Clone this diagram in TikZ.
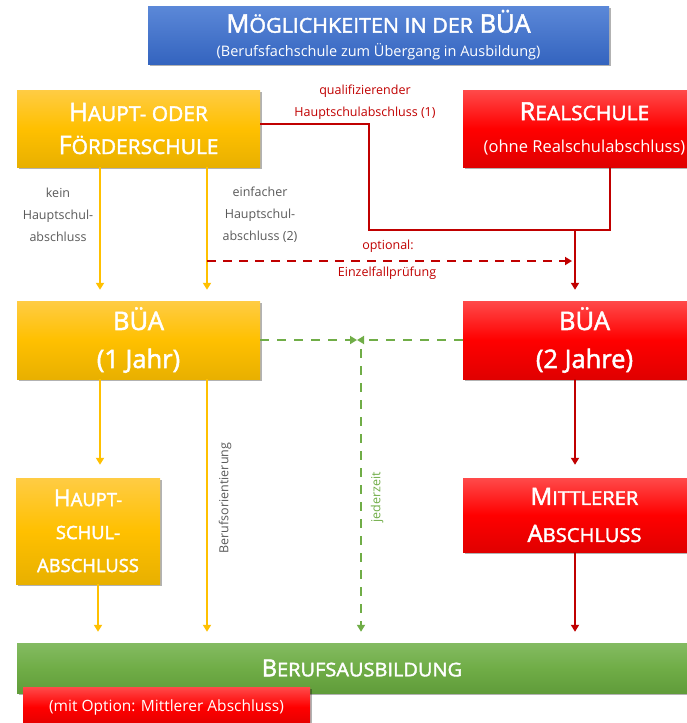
\documentclass[tikz,border=0pt]{standalone}
\usepackage{fontspec}
\setmainfont{Open Sans}
\newfontfamily\kastenfont{Open Sans}[FakeBold=2]
\usepackage{graphicx}
\usetikzlibrary{arrows.meta,calc,positioning,shadows}
\definecolor{gelb}{HTML}{FFC000}
\definecolor{gelbhell}{HTML}{FFCC44}
\definecolor{gelbdunkel}{HTML}{E8B000}
\definecolor{rot}{HTML}{FF0000}
\definecolor{rothell}{HTML}{FF4A4A}
\definecolor{rotdunkel}{HTML}{E00000}
\definecolor{dunkelrot}{HTML}{C00000}
\definecolor{blauhell}{HTML}{5B88D8}
\definecolor{blaudunkel}{HTML}{3464BF}
\definecolor{gruen}{HTML}{70AD47}
\definecolor{gruenhell}{HTML}{84BB62}
\definecolor{gruendunkel}{HTML}{609C3A}
\definecolor{grau}{HTML}{595959}
\newcommand{\ksc}[2][0.84]{\scalebox{#1}[0.8]{#2}}
\tikzset{>={Triangle[width=8pt,length=7pt]},
         box/.style={inner sep=0pt, text=white, align=center,
           drop shadow={shadow xshift=1.5pt, shadow yshift=-2pt, opacity=0.3, fill=black}},
         gelbbox/.style={box, top color=gelbhell, bottom color=gelbdunkel, middle color=gelb},
         rotbox/.style={box, top color=rothell, bottom color=rotdunkel, middle color=rot},
         blaubox/.style={box, top color=blauhell, bottom color=blaudunkel},
         gruenbox/.style={box, top color=gruenhell, bottom color=gruendunkel, middle color=gruen},
         gelbpfeil/.style={draw=gelb, line width=2.6pt, ->},
         rotlinie/.style={draw=dunkelrot, line width=2.6pt},
         rotpfeil/.style={rotlinie, ->},
         rotstrich/.style={rotlinie, ->, dash pattern=on 9pt off 7pt},
         gruenpfeil/.style={draw=gruen, line width=2.8pt, ->, dash pattern=on 9pt off 8pt},
         lbl/.style={font=\fontsize{12.5}{22}\selectfont, text=grau, align=center, inner sep=0pt}}

\begin{document}
\begin{tikzpicture}[x=1pt, y=-1pt]
	\useasboundingbox (0,0) rectangle (687,723);
	\clip (0,0) rectangle (687,723);

	% Kaesten
	\node[blaubox, minimum width=461pt, minimum height=58pt, font=\fontsize{14.5}{24}\selectfont] (titel) at (378.5,35)
	  {{\kastenfont\fontsize{25.5}{28}\selectfont M\ksc[0.84]{ÖGLICHKEITEN IN DER} BÜA}\\
	   (Berufsfachschule zum Übergang in Ausbildung)};
	\node[gelbbox, minimum width=243pt, minimum height=77pt, font=\kastenfont\fontsize{25.5}{33}\selectfont] (haupt) at (138.5,128.5)
	  {H\ksc[0.82]{AUPT- ODER}\\F\ksc[0.82]{ÖRDERSCHULE}};
	\node[rotbox, minimum width=243pt, minimum height=77pt, font=\fontsize{16.5}{32}\selectfont] (real) at (584.5,128.5)
	  {{\kastenfont\fontsize{25}{28}\selectfont R\ksc{EALSCHULE}}\\
	   (ohne Realschulabschluss)};
	\node[gelbbox, minimum width=243pt, minimum height=78pt, font=\kastenfont\fontsize{25.5}{38}\selectfont] (bua1) at (138.5,340)
	  {BÜA\\(1 Jahr)};
	\node[rotbox, minimum width=243pt, minimum height=78pt, font=\kastenfont\fontsize{25.5}{38}\selectfont] (bua2) at (584.5,340)
	  {BÜA\\(2 Jahre)};
	\node[gelbbox, minimum width=144pt, minimum height=106pt, font=\kastenfont\fontsize{23}{33}\selectfont] (hsa) at (88,531)
	  {H\ksc[0.8]{AUPT-}\\\ksc[0.8]{SCHUL-}\\\ksc[0.8]{ABSCHLUSS}};
	\node[rotbox, minimum width=243pt, minimum height=74pt, font=\kastenfont\fontsize{24}{37}\selectfont] (msa) at (584.5,515)
	  {M\ksc{ITTLERER}\\A\ksc{BSCHLUSS}};
	\node[gruenbox, minimum width=690pt, minimum height=50pt, font=\kastenfont\fontsize{23.5}{26}\selectfont] (ausb) at (362,668)
	  {B\ksc[0.85]{ERUFSAUSBILDUNG}};
	\node[rotbox, minimum width=287pt, minimum height=40pt, font=\fontsize{15.5}{18}\selectfont] (option) at (166.5,707)
	  {(mit Option: Mittlerer Abschluss)};

	% Spuren
	\coordinate (spurA) at (100,0);
	\coordinate (spurB) at (207,0);
	\coordinate (spurC) at (98,0);
	\coordinate (spurG) at (361,0);
	\coordinate (spurR) at (575,0);
	\coordinate (knick) at (369,230);
	\coordinate (rueck) at (610,230);
	\coordinate (opt) at (207,261);
	\coordinate (gtop) at (361,349);

	% Pfeile
	\draw[gelbpfeil, shorten >=11pt] (spurA |- haupt.south) -- (spurA |- bua1.north);
	\draw[gelbpfeil, shorten >=11pt] (spurB |- haupt.south) -- (spurB |- bua1.north);
	\draw[rotlinie] (haupt.east |- 0,124) -| (knick) -- (rueck) -- (rueck |- real.south);
	\draw[rotpfeil, shorten >=11pt] (spurR |- rueck) -- (spurR |- bua2.north);
	\draw[rotstrich, shorten >=3pt] (opt) -- (spurR |- opt);
	\draw[gruenpfeil, shorten >=4pt] (bua1.east) -- (spurG |- bua1.east);
	\draw[gruenpfeil, shorten >=-4pt] (bua2.west) -- (spurG |- bua2.west);
	\draw[gruenpfeil, shorten >=11pt] (gtop) -- (spurG |- ausb.north);
	\draw[gelbpfeil, shorten >=13pt] (spurA |- bua1.south) -- (spurA |- hsa.north);
	\draw[gelbpfeil, shorten >=11pt] (spurB |- bua1.south) -- (spurB |- ausb.north);
	\draw[gelbpfeil, shorten >=11pt] (spurC |- hsa.south) -- (spurC |- ausb.north);
	\draw[rotpfeil, shorten >=13pt] (spurR |- bua2.south) -- (spurR |- msa.north);
	\draw[rotpfeil, shorten >=11pt] (spurR |- msa.south) -- (spurR |- ausb.north);

	% Beschriftungen
	\node[lbl] (kein) at (58,215) {kein\\Hauptschul-\\abschluss};
	\node[lbl] (einfach) at (260,215) {einfacher\\Hauptschul-\\abschluss (2)};
	\node[lbl, text=dunkelrot] (quali) at (365,102) {qualifizierender\\Hauptschulabschluss (1)};
	\node[lbl, text=dunkelrot] (optional) at (388,246) {optional:};
	\node[lbl, text=dunkelrot] (einzel) at (387,273) {Einzelfallprüfung};
	\node[lbl, text=gruen, rotate=90] (jederzeit) at (377,497) {jederzeit};
	\node[lbl, rotate=90] (orient) at (225,498) {Berufsorientierung};
\end{tikzpicture}
\end{document}
